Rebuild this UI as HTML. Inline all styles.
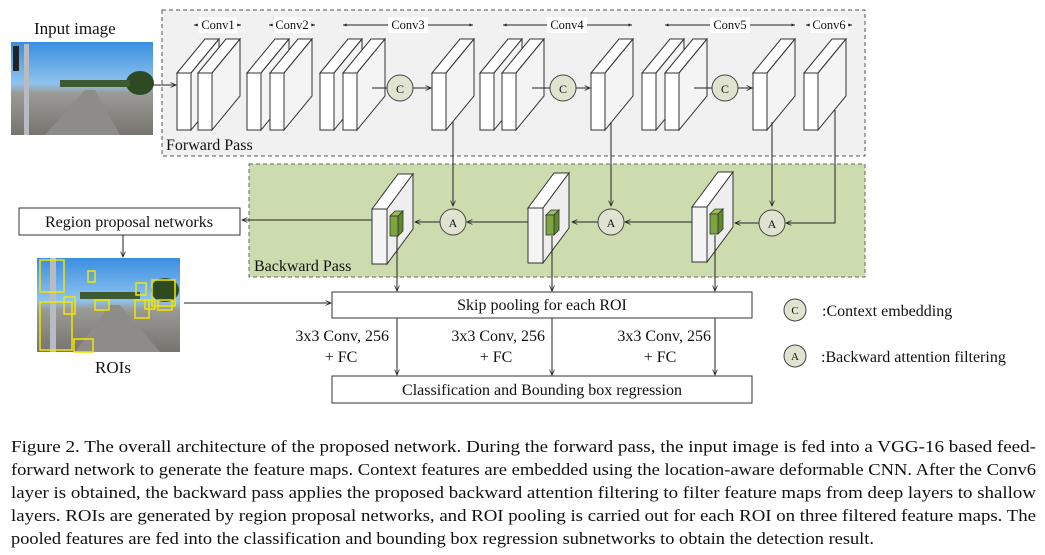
<!DOCTYPE html>
<html><head><meta charset="utf-8"><style>
html,body{margin:0;padding:0;background:#fff;}
svg{display:block;}
text{font-family:"Liberation Serif","Times New Roman",serif;fill:#111;}
</style></head><body>
<svg width="1045" height="555" viewBox="0 0 1045 555" xmlns="http://www.w3.org/2000/svg" font-family="Liberation Serif, serif">
<defs>
<marker id="ar" viewBox="0 0 10 10" refX="9" refY="5" markerWidth="6" markerHeight="6" orient="auto"><path d="M0,1 L9,5 L0,9" fill="none" stroke="#222" stroke-width="1.3"/></marker>
<marker id="sm" viewBox="0 0 10 10" refX="9" refY="5" markerWidth="4" markerHeight="4" orient="auto"><path d="M0,1 L9,5 L0,9 z" fill="#222"/></marker>
<linearGradient id="sky" x1="0" y1="0" x2="0" y2="1"><stop offset="0" stop-color="#3a8ee0"/><stop offset="0.45" stop-color="#8fc3ee"/><stop offset="0.55" stop-color="#9a9a96"/><stop offset="1" stop-color="#77746e"/></linearGradient>
<g id="slab"><polygon points="0,0 28,-34 42,-34 14,0" fill="#fff" stroke="#333" stroke-width="1"/><polygon points="14,0 42,-34 42,23 14,57" fill="#f4f4f4" stroke="#333" stroke-width="1"/><rect x="0" y="0" width="14" height="57" fill="#fff" stroke="#333" stroke-width="1"/></g>
<g id="bslab"><polygon points="0,0 26,-35 41,-35 15,0" fill="#fff" stroke="#333"/><polygon points="15,0 41,-35 41,20 15,55" fill="#eee" stroke="#333"/><rect x="0" y="0" width="15" height="55" fill="#f4f4f4" stroke="#333"/><polygon points="18,7 23,2 31,2 26,7" fill="#9bbf5a" stroke="#333" stroke-width=".8"/><polygon points="26,7 31,2 31,22 26,27" fill="#5f8a2c" stroke="#333" stroke-width=".8"/><rect x="18" y="7" width="8" height="20" fill="#7ea53f" stroke="#333" stroke-width=".8"/></g>
</defs>

<rect x="162" y="10" width="703" height="146" fill="#f1f1f1" stroke="#555" stroke-dasharray="4,3"/>
<rect x="249" y="164" width="616" height="113" fill="#cddcae" stroke="#666" stroke-dasharray="4,3"/>

<text x="34" y="34" font-size="17">Input image</text>
<g>
<rect x="11" y="42" width="142" height="93" fill="url(#sky)"/>
<ellipse cx="140" cy="83" rx="14" ry="12" fill="#2e4a22"/>
<rect x="60" y="80" width="70" height="7" fill="#3e5a30"/>
<rect x="24" y="44" width="5" height="91" fill="#b8bcc0"/>
<rect x="13" y="46" width="6" height="25" fill="#222"/>
<polygon points="45,135 85,90 95,90 120,135" fill="#8e8c88"/>
</g>
<line x1="153" y1="85" x2="176" y2="85" stroke="#222" marker-end="url(#ar)"/>

<!-- conv label spans -->
<g stroke="#222" stroke-width="1" fill="none">
<line x1="198" y1="25" x2="194" y2="25" marker-end="url(#sm)"/><line x1="237" y1="25" x2="241" y2="25" marker-end="url(#sm)"/>
<line x1="273" y1="25" x2="269" y2="25" marker-end="url(#sm)"/><line x1="311" y1="25" x2="315" y2="25" marker-end="url(#sm)"/>
<line x1="408" y1="25" x2="343" y2="25" marker-end="url(#sm)"/><line x1="408" y1="25" x2="473" y2="25" marker-end="url(#sm)"/>
<line x1="567" y1="25" x2="503" y2="25" marker-end="url(#sm)"/><line x1="567" y1="25" x2="632" y2="25" marker-end="url(#sm)"/>
<line x1="730" y1="25" x2="665" y2="25" marker-end="url(#sm)"/><line x1="730" y1="25" x2="795" y2="25" marker-end="url(#sm)"/>
<line x1="810" y1="25" x2="806" y2="25" marker-end="url(#sm)"/><line x1="848" y1="25" x2="852" y2="25" marker-end="url(#sm)"/>
</g>
<g fill="#fff">
<rect x="199" y="17" width="38" height="16"/><rect x="274" y="17" width="37" height="16"/><rect x="388" y="17" width="40" height="16"/>
<rect x="547" y="17" width="40" height="16"/><rect x="710" y="17" width="40" height="16"/><rect x="810" y="17" width="38" height="16"/>
</g>
<g font-size="12.5">
<text x="218" y="29" text-anchor="middle">Conv1</text>
<text x="292" y="29" text-anchor="middle">Conv2</text>
<text x="408" y="29" text-anchor="middle">Conv3</text>
<text x="567" y="29" text-anchor="middle">Conv4</text>
<text x="730" y="29" text-anchor="middle">Conv5</text>
<text x="829" y="29" text-anchor="middle">Conv6</text>
</g>

<use href="#slab" x="177" y="73"/><use href="#slab" x="198" y="73"/>
<use href="#slab" x="247" y="73"/><use href="#slab" x="270" y="73"/>
<use href="#slab" x="320" y="73"/><use href="#slab" x="343" y="73"/>
<use href="#slab" x="432" y="73"/>
<use href="#slab" x="480" y="73"/><use href="#slab" x="502" y="73"/>
<use href="#slab" x="591" y="73"/>
<use href="#slab" x="642" y="73"/><use href="#slab" x="665" y="73"/>
<use href="#slab" x="753" y="73"/>
<use href="#slab" x="804" y="73"/>

<g stroke="#222" fill="none">
<line x1="372" y1="88" x2="387" y2="88"/><line x1="413" y1="88" x2="431" y2="88" marker-end="url(#ar)"/>
<line x1="532" y1="88" x2="550" y2="88"/><line x1="576" y1="88" x2="590" y2="88" marker-end="url(#ar)"/>
<line x1="694" y1="88" x2="712" y2="88"/><line x1="738" y1="88" x2="752" y2="88" marker-end="url(#ar)"/>
</g>
<g fill="#dfe3cf" stroke="#444">
<circle cx="400" cy="88" r="13"/><circle cx="563" cy="88" r="13"/><circle cx="725" cy="88" r="13"/>
</g>
<g font-size="12" text-anchor="middle">
<text x="400" y="93">C</text><text x="563" y="93">C</text><text x="725" y="93">C</text>
</g>
<text x="166" y="150" font-size="16">Forward Pass</text>
<text x="254" y="271" font-size="16">Backward Pass</text>

<g stroke="#222" fill="none">
<line x1="453" y1="122" x2="453" y2="206" marker-end="url(#ar)"/>
<line x1="611" y1="122" x2="611" y2="206" marker-end="url(#ar)"/>
<line x1="772" y1="122" x2="772" y2="206" marker-end="url(#ar)"/>
<path d="M835,110 V223 H786" marker-end="url(#ar)"/>
<line x1="440" y1="222" x2="415" y2="222" marker-end="url(#ar)"/>
<line x1="528" y1="222" x2="467" y2="222" marker-end="url(#ar)"/>
<line x1="598" y1="222" x2="572" y2="222" marker-end="url(#ar)"/>
<line x1="692" y1="222" x2="625" y2="222" marker-end="url(#ar)"/>
<line x1="759" y1="223" x2="735" y2="223" marker-end="url(#ar)"/>
<line x1="372" y1="220" x2="242" y2="220" marker-end="url(#ar)"/>
</g>

<use href="#bslab" x="372" y="209"/>
<use href="#bslab" x="528" y="208"/>
<use href="#bslab" x="692" y="207"/>

<g fill="#dfe3cf" stroke="#444">
<circle cx="453" cy="222" r="13"/><circle cx="611" cy="222" r="13"/><circle cx="772" cy="223" r="13"/>
</g>
<g font-size="12" text-anchor="middle">
<text x="453" y="227">A</text><text x="611" y="227">A</text><text x="772" y="228">A</text>
</g>

<rect x="19" y="208" width="221" height="27" fill="#fff" stroke="#333"/>
<text x="129" y="227" font-size="16" text-anchor="middle">Region proposal networks</text>
<line x1="123" y1="235" x2="123" y2="257" stroke="#222" marker-end="url(#ar)"/>

<g>
<rect x="37" y="258" width="143" height="94" fill="url(#sky)"/>
<ellipse cx="165" cy="290" rx="14" ry="12" fill="#2e4a22"/>
<rect x="80" y="292" width="60" height="7" fill="#3e5a30"/>
<rect x="50" y="258" width="6" height="94" fill="#b8bcc0"/>
<polygon points="75,352 110,305 120,305 160,352" fill="#8e8c88"/>
<g fill="none" stroke="#f2e600" stroke-width="1.5">
<rect x="40" y="260" width="24" height="32"/><rect x="40" y="302" width="32" height="48"/><rect x="64" y="297" width="11" height="17"/>
<rect x="88" y="271" width="7" height="11"/><rect x="95" y="300" width="14" height="10"/><rect x="74" y="339" width="19" height="13"/>
<rect x="136" y="283" width="10" height="12"/><rect x="152" y="280" width="23" height="26"/><rect x="135" y="300" width="14" height="18"/>
<rect x="145" y="300" width="10" height="9"/><rect x="158" y="300" width="14" height="10"/>
</g>
</g>
<text x="113" y="373" font-size="17" text-anchor="middle">ROIs</text>
<line x1="184" y1="303" x2="331" y2="303" stroke="#222" marker-end="url(#ar)"/>

<g stroke="#222" fill="none">
<line x1="397" y1="236" x2="397" y2="291" marker-end="url(#ar)"/>
<line x1="552" y1="236" x2="552" y2="291" marker-end="url(#ar)"/>
<line x1="715" y1="235" x2="715" y2="291" marker-end="url(#ar)"/>
<line x1="397" y1="318" x2="397" y2="375" marker-end="url(#ar)"/>
<line x1="552" y1="318" x2="552" y2="375" marker-end="url(#ar)"/>
<line x1="715" y1="318" x2="715" y2="375" marker-end="url(#ar)"/>
</g>
<rect x="332" y="292" width="420" height="26" fill="#fff" stroke="#333"/>
<text x="542" y="310" font-size="16" text-anchor="middle">Skip pooling for each ROI</text>
<rect x="332" y="376" width="420" height="27" fill="#fff" stroke="#333"/>
<text x="542" y="395" font-size="16" text-anchor="middle">Classification and Bounding box regression</text>
<g font-size="16" text-anchor="end">
<text x="389" y="341">3x3 Conv, 256</text><text x="545" y="341">3x3 Conv, 256</text><text x="711" y="341">3x3 Conv, 256</text>
</g>
<g font-size="16" text-anchor="middle">
<text x="341" y="362">+ FC</text><text x="496" y="362">+ FC</text><text x="660" y="362">+ FC</text>
</g>

<g fill="#dfe3cf" stroke="#444"><circle cx="795" cy="310" r="11"/><circle cx="795" cy="356" r="11"/></g>
<text x="795" y="314" font-size="11" text-anchor="middle">C</text>
<text x="795" y="360" font-size="11" text-anchor="middle">A</text>
<text x="822" y="316" font-size="16">:Context embedding</text>
<text x="821" y="362" font-size="16">:Backward attention filtering</text>

<g font-size="16.5">
<text x="11" y="452" textLength="1025" lengthAdjust="spacingAndGlyphs">Figure 2. The overall architecture of the proposed network.  During the forward pass, the input image is fed into a VGG-16 based feed-</text>
<text x="11" y="475" textLength="1025" lengthAdjust="spacingAndGlyphs">forward network to generate the feature maps. Context features are embedded using the location-aware deformable CNN. After the Conv6</text>
<text x="11" y="498" textLength="1025" lengthAdjust="spacingAndGlyphs">layer is obtained, the backward pass applies the proposed backward attention filtering to filter feature maps from deep layers to shallow</text>
<text x="11" y="521" textLength="1025" lengthAdjust="spacingAndGlyphs">layers.  ROIs are generated by region proposal networks, and ROI pooling is carried out for each ROI on three filtered feature maps.  The</text>
<text x="11" y="544" textLength="863" lengthAdjust="spacingAndGlyphs">pooled features are fed into the classification and bounding box regression subnetworks to obtain the detection result.</text>
</g>
</svg>
</body></html>
